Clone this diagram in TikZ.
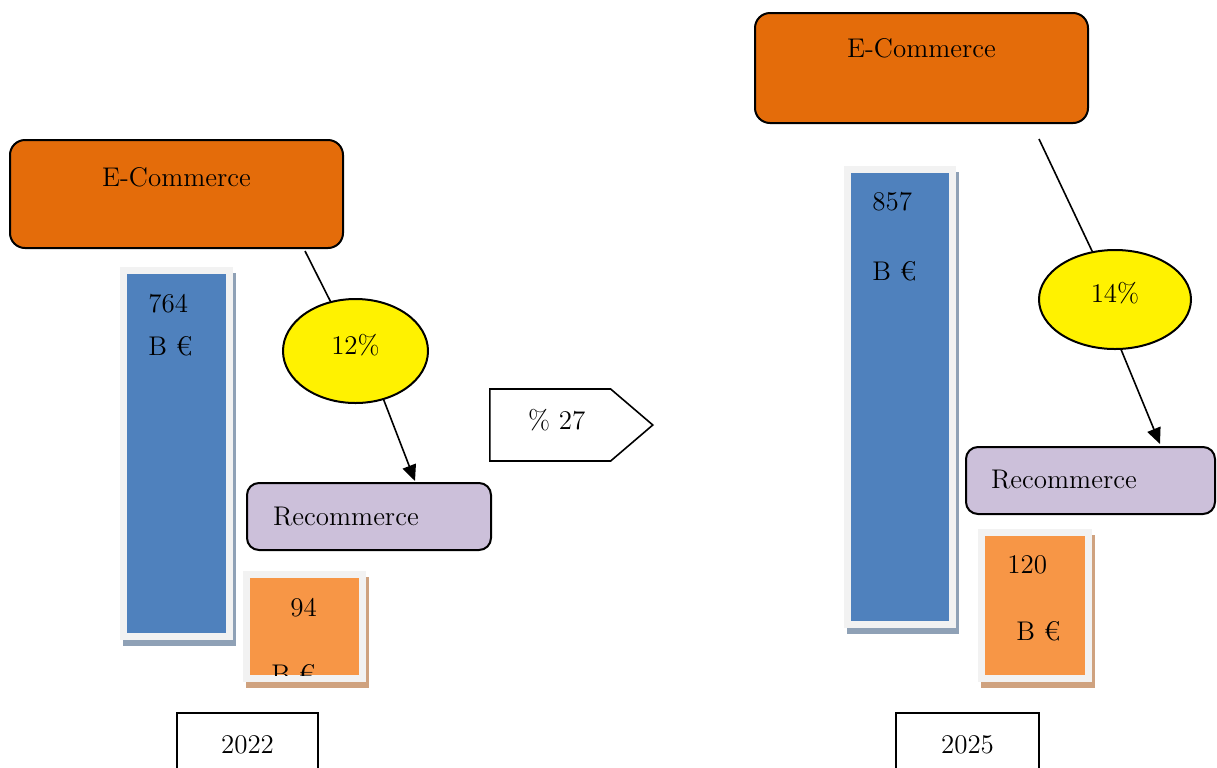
\documentclass[tikz,border=0pt]{standalone}
\usepackage{fontspec}
\usetikzlibrary{arrows.meta, shapes.geometric, shapes.symbols}

\definecolor{ecom}{HTML}{E46C0A}
\definecolor{recom}{HTML}{CCC0DA}
\definecolor{barblue}{HTML}{4F81BD}
\definecolor{barorange}{HTML}{F79646}
\definecolor{framegray}{HTML}{F2F2F2}
\definecolor{shadeblue}{HTML}{8FA1B6}
\definecolor{shadetan}{HTML}{CFA27F}

\begin{document}
\begin{tikzpicture}[x=0.5pt, y=-0.5pt, font=\fontsize{13.5}{16}\selectfont]
\useasboundingbox (0,0) rectangle (1217,767);

% shadows of the bars
\fill[shadeblue] (123,273) rectangle (236,646);
\fill[shadetan] (246,577) rectangle (369,688);
\fill[shadeblue] (847,172) rectangle (959,634);
\fill[shadetan] (981,535) rectangle (1095,688);

\begin{scope}[every node/.style={rectangle, inner sep=0pt, line width=3.5pt, draw=framegray}]
    \node (bL) at (176.5, 453.5) [fill=barblue, minimum width=53pt, minimum height=183pt] {};
    \node (oL) at (304.5, 626.5) [fill=barorange, minimum width=58pt, minimum height=52pt] {};
    \node (bR) at (900, 397) [fill=barblue, minimum width=52.5pt, minimum height=227.5pt] {};
    \node (oR) at (1035, 605.5) [fill=barorange, minimum width=53.5pt, minimum height=73pt] {};
\end{scope}

\begin{scope}[every node/.style={inner sep=0pt, anchor=base west}]
    \node (bLnum) at (148, 312) {764};
    \node (bLunit) at (148, 355) {B €};
    \node (oLnum) at (290, 616) {94};
    \node (bRnum) at (872, 210) {857};
    \node (bRunit) at (872, 280) {B €};
    \node (oRnum) at (1007, 573) {120};
    \node (oRunit) at (1016, 640) {B €};
\end{scope}

\begin{scope}
    \clip (250,578) rectangle (359,675);
    \node (oLunit) at (271, 683) [inner sep=0pt, anchor=base west] {B €};
\end{scope}

\begin{scope}[every node/.style={draw, line width=1pt, inner ysep=0pt}]
    \node (eL) at (176.5, 139) [anchor=north, fill=ecom, rounded corners=7.5pt, minimum width=166.5pt, text height=23pt, text depth=31pt] {E-Commerce};
    \node (eR) at (921.5, 12) [anchor=north, fill=ecom, rounded corners=7.5pt, minimum width=166.5pt, text height=22pt, text depth=33pt] {E-Commerce};

    \node (pL) at (355.5, 351) [ellipse, fill=yellow, inner sep=0pt, minimum width=72.5pt, minimum height=52pt, text height=9pt, text depth=6pt] {12\%};
    \node (pR) at (1115, 299.5) [ellipse, fill=yellow, inner sep=0pt, minimum width=76pt, minimum height=49.5pt, text height=9pt, text depth=6pt] {14\%};

    \node (rL) at (246, 482) [anchor=north west, fill=recom, rounded corners=6pt, inner xsep=13pt, text width=96pt, align=left, text height=21pt, text depth=12.5pt] {Recommerce};
    \node (rR) at (965, 446) [anchor=north west, fill=recom, rounded corners=6pt, inner xsep=12.5pt, text width=99.5pt, align=left, text height=20.5pt, text depth=13pt] {Recommerce};

    \node (g) at (489, 425) [anchor=west, signal, signal to=east, signal pointer angle=81, line width=0.8pt, minimum width=81.5pt, minimum height=36pt, text height=8pt, text depth=4pt] {\hspace*{6.5pt}\% 27};

    \node (yL) at (247.5, 712) [anchor=north, minimum width=70.5pt, text height=20pt, text depth=16pt] {2022};
    \node (yR) at (967.5, 712) [anchor=north, minimum width=71.5pt, text height=20pt, text depth=16pt] {2025};
\end{scope}

\coordinate (eLout) at (305, 251);
\coordinate (rLin) at (415, 481);
\coordinate (eRout) at (1039, 139);
\coordinate (rRin) at (1160, 444);

\begin{scope}[>={Triangle[length=8pt, width=7pt]}, line width=0.8pt]
    \draw [-] (eLout) -- (pL);
    \draw [->] (pL.-60) -- (rLin);
    \draw [-] (eRout) -- (pR);
    \draw [->] (pR.-83) -- (rRin);
\end{scope}
\end{tikzpicture}
\end{document}
